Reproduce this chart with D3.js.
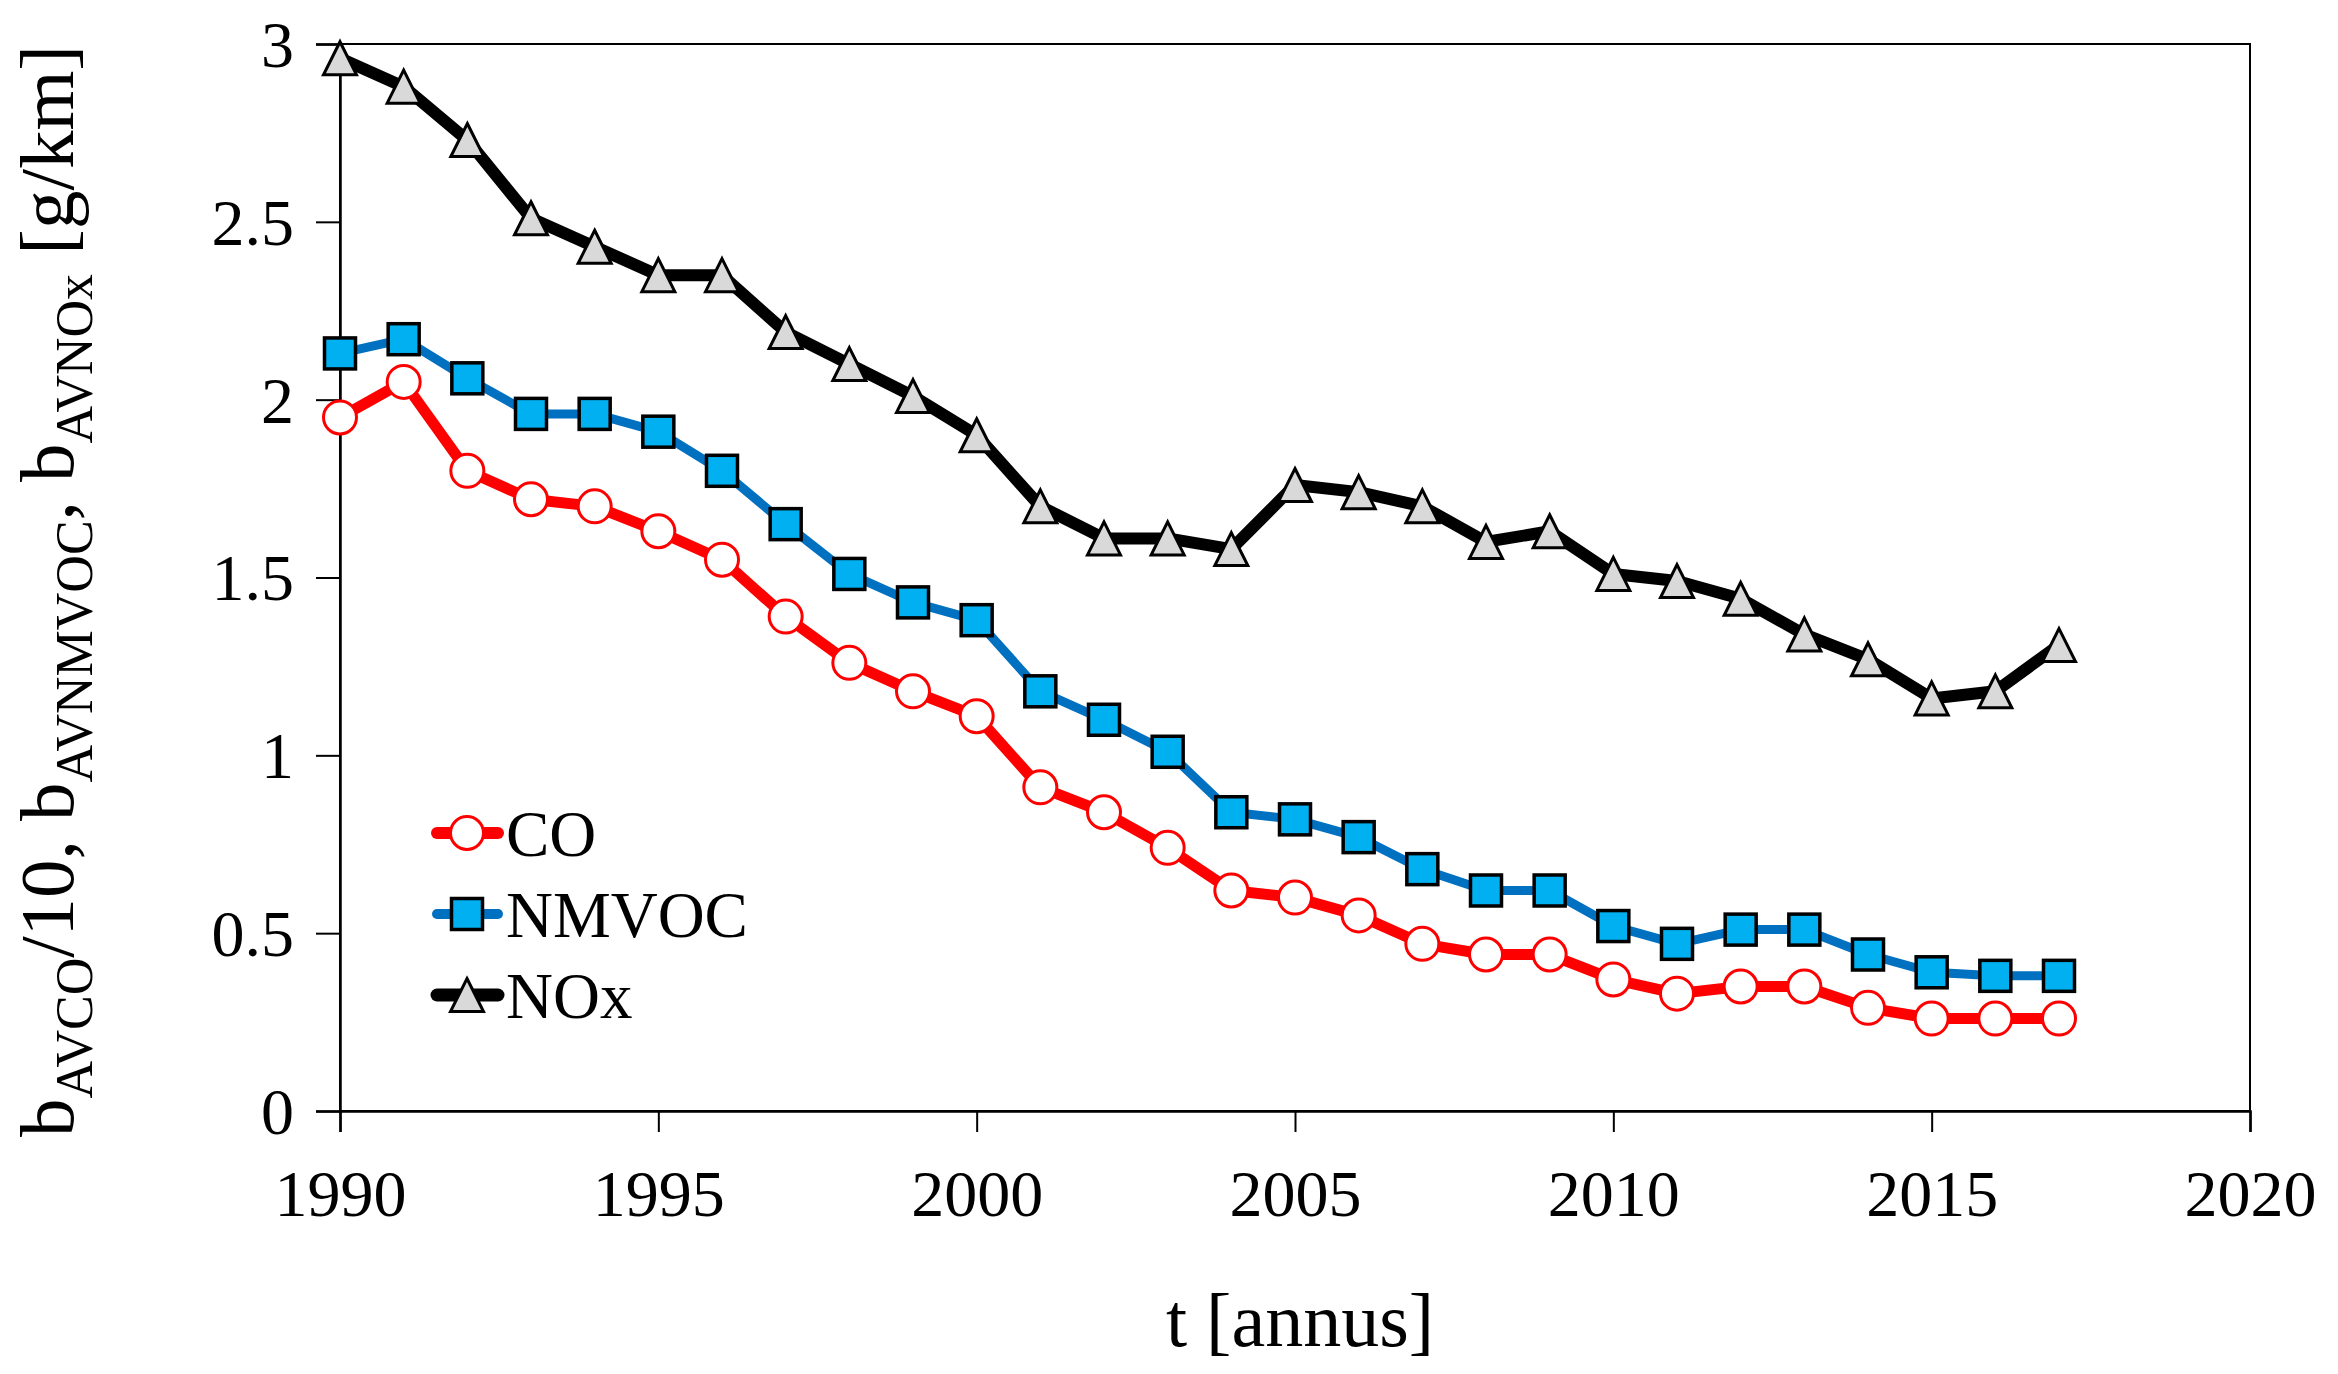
<!DOCTYPE html>
<html><head><meta charset="utf-8">
<script src="https://cdn.jsdelivr.net/npm/d3@7"></script>
<style>html,body{margin:0;padding:0;background:#fff;}</style>
</head><body>
<svg id="c" width="2338" height="1374"></svg>
<script>
const years = d3.range(1990, 2018);
const coValues = [1.95,2.05,1.80,1.72,1.70,1.63,1.55,1.39,1.26,1.18,1.11,0.91,0.84,0.74,0.62,0.60,0.55,0.47,0.44,0.44,0.37,0.33,0.35,0.35,0.29,0.26,0.26,0.26];
const nmvocValues = [2.13,2.17,2.06,1.96,1.96,1.91,1.80,1.65,1.51,1.43,1.38,1.18,1.10,1.01,0.84,0.82,0.77,0.68,0.62,0.62,0.52,0.47,0.51,0.51,0.44,0.39,0.38,0.38];
const noxValues = [2.96,2.88,2.73,2.51,2.43,2.35,2.35,2.19,2.10,2.01,1.90,1.70,1.61,1.61,1.58,1.76,1.74,1.70,1.60,1.63,1.51,1.49,1.44,1.34,1.27,1.16,1.18,1.31];
const seriesNames = ["CO","NMVOC","NOx"];
const xTicks = [1990,1995,2000,2005,2010,2015,2020];
const yTicks = [0,0.5,1,1.5,2,2.5,3];

const svg = d3.select("#c");
const L = 340, R = 2250, T = 44, B = 1111;
const x = d3.scaleLinear().domain([1990,2020]).range([L,R]);
const y = d3.scaleLinear().domain([0,3]).range([B,T]);
const font = "'Liberation Serif','Times New Roman',serif";

// frame
svg.append("rect").attr("x",L).attr("y",T).attr("width",R-L).attr("height",B-T)
  .attr("fill","none").attr("stroke","#000").attr("stroke-width",2);

// axes
const yAxis = svg.append("g").attr("transform",`translate(${L},0)`)
  .call(d3.axisLeft(y).tickValues(yTicks).tickSize(24).tickPadding(22).tickFormat(d=>String(d)));
const xAxis = svg.append("g").attr("transform",`translate(0,${B})`)
  .call(d3.axisBottom(x).tickValues(xTicks).tickSize(21).tickPadding(37).tickFormat(d=>String(d)));
[yAxis,xAxis].forEach(g=>{
  g.select(".domain").attr("stroke","#000").attr("stroke-width",2.5);
  g.selectAll(".tick line").attr("stroke","#000").attr("stroke-width",2);
  g.selectAll(".tick text").attr("fill","#000").style("font-family",font).style("font-size","66px");
});
xAxis.selectAll(".tick text").attr("dy","0.71em");
yAxis.selectAll(".tick text").attr("dy","0.34em");

const series = [
  {name:"CO", values:coValues, line:"#FF0000", lw:11, shape:"circle"},
  {name:"NMVOC", values:nmvocValues, line:"#0070C0", lw:9, shape:"square"},
  {name:"NOx", values:noxValues, line:"#000000", lw:12, shape:"triangle"}
];

function marker(g, shape, cx, cy){
  if(shape==="circle"){
    g.append("circle").attr("cx",cx).attr("cy",cy).attr("r",16.5)
      .attr("fill","#fff").attr("stroke","#FF0000").attr("stroke-width",3);
  } else if(shape==="square"){
    g.append("rect").attr("x",cx-15.5).attr("y",cy-15.5).attr("width",31).attr("height",31)
      .attr("fill","#00B0F0").attr("stroke","#000").attr("stroke-width",3.5);
  } else {
    const h=33, w=33;
    g.append("path").attr("d",`M${cx},${cy-h/2}L${cx+w/2},${cy+h/2}L${cx-w/2},${cy+h/2}Z`)
      .attr("fill","#D9D9D9").attr("stroke","#000").attr("stroke-width",3).attr("stroke-linejoin","miter");
  }
}

const line = d3.line().x((d,i)=>x(years[i])).y(d=>y(d));
series.forEach(s=>{
  svg.append("path").datum(s.values).attr("d",line).attr("fill","none")
    .attr("stroke",s.line).attr("stroke-width",s.lw).attr("stroke-linejoin","round");
});
series.forEach(s=>{
  const g = svg.append("g");
  s.values.forEach((v,i)=>marker(g,s.shape,x(years[i]),y(v)));
});

// legend
const legY = [833,914,995];
series.forEach((s,i)=>{
  const g = svg.append("g");
  g.append("line").attr("x1",437).attr("x2",498).attr("y1",legY[i]).attr("y2",legY[i])
    .attr("stroke",s.line).attr("stroke-width",s.lw+1).attr("stroke-linecap","round");
  marker(g,s.shape,467,legY[i]);
  g.append("text").attr("x",506).attr("y",legY[i]).attr("dy","0.35em")
    .style("font-family",font).style("font-size","65px").attr("fill","#000").text(seriesNames[i]);
});

// x title
svg.append("text").attr("x",1300).attr("y",1346).attr("text-anchor","middle")
  .style("font-family",font).style("font-size","76px").attr("fill","#000").text("t [annus]");

// y title
const yt = svg.append("text").attr("transform","translate(73,591) rotate(-90)").attr("text-anchor","middle")
  .style("font-family",font).style("font-size","77px").attr("fill","#000");
const parts = [["b",0],["AVCO",1],["/10, b",0],["AVNMVOC",1],[", b",0],["AVNOx",1],[" [g/km]",0]];
parts.forEach(([t,sub],i)=>{
  const prevSub = i>0 ? parts[i-1][1] : 0;
  const ts = yt.append("tspan").text(t);
  if(sub){ ts.style("font-size","52px").attr("dy", 19); }
  else if(prevSub){ ts.attr("dy", -19); }
});
</script>
</body></html>
